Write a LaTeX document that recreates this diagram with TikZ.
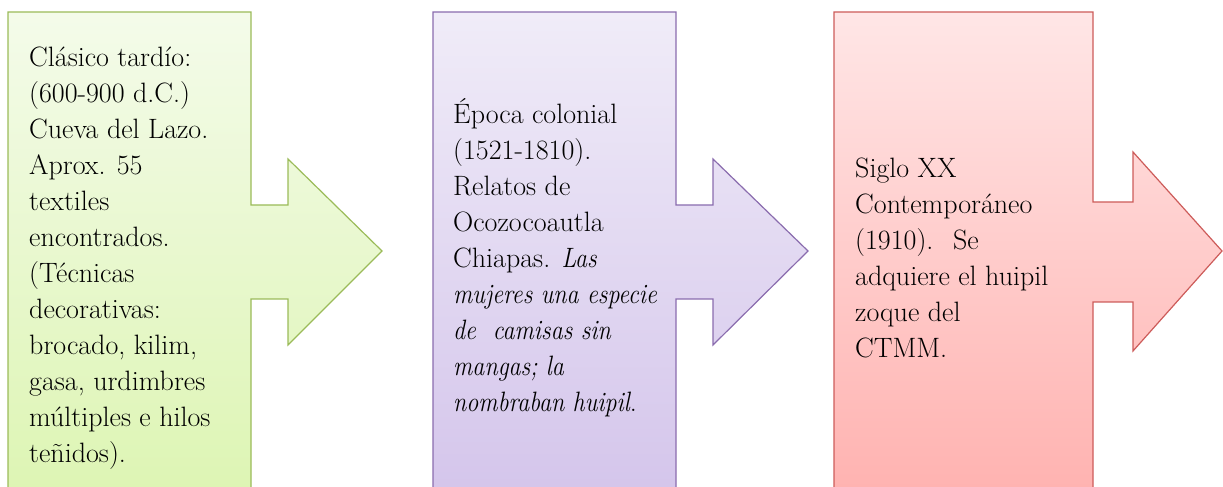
\documentclass[tikz,border=0pt]{standalone}
\usepackage{fontspec}
\usepackage{graphicx}
\usetikzlibrary{positioning}

\definecolor{greenline}{HTML}{9BBB59}
\definecolor{greentop}{HTML}{F4FBEA}
\definecolor{greenbot}{HTML}{DDF5B3}
\definecolor{purpleline}{HTML}{8A6CAE}
\definecolor{purpletop}{HTML}{F0ECF8}
\definecolor{purplebot}{HTML}{D4C5EB}
\definecolor{redline}{HTML}{CD5C5A}
\definecolor{redtop}{HTML}{FFE6E6}
\definecolor{redbot}{HTML}{FFB2B0}

% narrower italic, as in the source
\newcommand{\relato}[1]{\scalebox{0.86}[1]{\itshape #1}}

\tikzset{
  greenstage/.style={draw=greenline,top color=greentop,bottom color=greenbot},
  purplestage/.style={draw=purpleline,top color=purpletop,bottom color=purplebot},
  redstage/.style={draw=redline,top color=redtop,bottom color=redbot}
}

\begin{document}
\begin{tikzpicture}[x=1pt,y=1pt]
	\useasboundingbox (0,0) rectangle (1223,487);
	\clip (0,0) rectangle (1223,487);

	\begin{scope}[line width=1.2pt,line join=miter]
		\draw[greenstage] (8,-10) -- (8,475) -- (251,475) -- (251,282) -- (288,282) -- (288,328)
			-- (382,236) -- (288,142) -- (288,188) -- (251,188) -- (251,-10) -- cycle;
		\draw[purplestage] (433,-10) -- (433,475) -- (676,475) -- (676,282) -- (713,282) -- (713,328)
			-- (808,236) -- (713,142) -- (713,188) -- (676,188) -- (676,-10) -- cycle;
		\draw[redstage] (834,-10) -- (834,475) -- (1093,475) -- (1093,285) -- (1133,285) -- (1133,335)
			-- (1222,236) -- (1133,136) -- (1133,185) -- (1093,185) -- (1093,-10) -- cycle;
	\end{scope}

	\begin{scope}[every node/.style={align=left,inner sep=0pt,anchor=west,font=\fontsize{28}{36}\selectfont}]
		\node (clasico) at (29,229) {Clásico tardío:\\ (600-900 d.C.)\\ Cueva del Lazo.\\ Aprox. 55\\ textiles\\ encontrados.\\ (Técnicas\\ decorativas:\\ brocado, kilim,\\ gasa, urdimbres\\ múltiples e hilos\\ teñidos).};
		\node (colonial) at (453,229) {Época colonial\\ (1521-1810).\\ Relatos de\\ Ocozocoautla\\ Chiapas. \relato{Las}\\ \relato{mujeres una especie}\\ \relato{de~ camisas sin}\\ \relato{mangas; la}\\ \relato{nombraban huipil}.};
		\node (siglo) at (855,229) {Siglo XX\\ Contemporáneo\\ (1910).~ Se\\ adquiere el huipil\\ zoque del\\ CTMM.};
	\end{scope}
\end{tikzpicture}
\end{document}
